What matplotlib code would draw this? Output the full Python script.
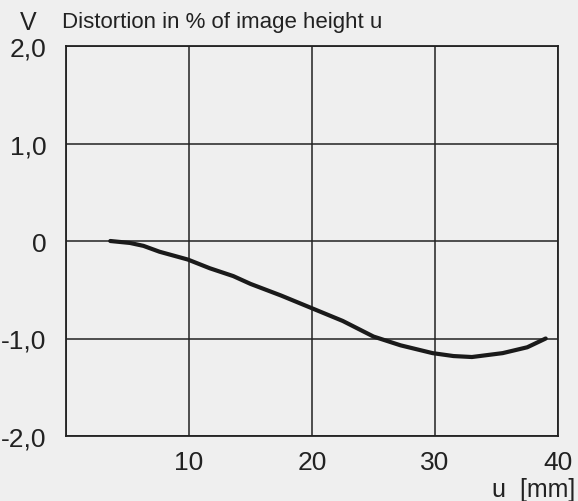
import matplotlib
matplotlib.use("Agg")
import matplotlib.pyplot as plt
import numpy as np

# Data
u = [3.6, 5.2, 6.3, 7.6, 9.9, 11.7, 13.6, 15, 17.5, 20, 22.5, 25, 27.2, 29.8, 31.5, 33, 35.5, 37.5, 39]
v = [0, -0.02, -0.05, -0.11, -0.19, -0.28, -0.36, -0.44, -0.56, -0.69, -0.82, -0.98, -1.07, -1.15, -1.18, -1.19, -1.15, -1.09, -1.0]
x_ticks = [0, 10, 20, 30, 40]
x_labels = ["", "10", "20", "30", "40"]
y_ticks = [-2.0, -1.0, 0.0, 1.0, 2.0]
y_labels = ["-2,0", "-1,0", "0", "1,0", "2,0"]

plt.rcParams['font.family'] = ['Liberation Sans', 'DejaVu Sans']
bg = '#efefef'
fig = plt.figure(figsize=(5.78, 5.02), dpi=100, facecolor=bg)
ax = fig.add_axes([66/578, 1-437/502, (558-66)/578, (437-47)/502])
ax.set_facecolor(bg)

ax.plot(u, v, color='#1a1a1a', lw=3.0, solid_capstyle='round', solid_joinstyle='round')

ax.set_xlim(0, 40)
ax.set_ylim(-2, 2)
ax.set_xticks(x_ticks)
ax.set_xticklabels(x_labels)
ax.set_yticks(y_ticks)
ax.set_yticklabels(y_labels)
ax.tick_params(length=0, labelsize=19, colors='#222222')
ax.tick_params(axis='y', pad=14)
ax.tick_params(axis='x', pad=10)
ax.grid(True, color='#222222', lw=1.1)
for s in ax.spines.values():
    s.set_color('#222222')
    s.set_linewidth(1.3)

fig.text(20/578, 1-30/502, "V", fontsize=18, color='#222222', va='baseline')
fig.text(62/578, 1-28/502, "Distortion in % of image height u", fontsize=16, color='#222222', va='baseline')
fig.text(575/578, 1-497/502, "u  [mm]", fontsize=18, color='#222222', ha='right', va='baseline')

fig.savefig("out.png", dpi=100, facecolor=bg)
